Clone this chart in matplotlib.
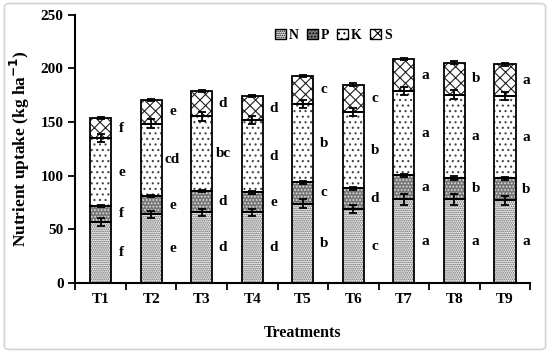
import numpy as np
import matplotlib
matplotlib.use("Agg")
import matplotlib.pyplot as plt
from matplotlib.patches import FancyBboxPatch, Patch

plt.rcParams['font.family'] = ['Liberation Serif', 'DejaVu Serif']
plt.rcParams['font.weight'] = 'bold'
plt.rcParams['hatch.linewidth'] = 0.8

# data (kg/ha)
treatments = ['T1', 'T2', 'T3', 'T4', 'T5', 'T6', 'T7', 'T8', 'T9']
N = [57, 64, 66, 66, 74, 69, 78, 78, 77]
P = [15, 17, 19.5, 18.5, 20, 19.5, 22.5, 20, 20.5]
K = [63, 67.5, 70, 67.5, 73, 71, 78.5, 77.5, 77]
S = [19, 22.5, 23.5, 22, 26, 25.5, 29.5, 30, 29.5]

errN = [3.5, 3.5, 3.5, 3.5, 4, 4, 5, 5, 4]
errP = [1, 1, 1, 1, 1.5, 1.5, 1.5, 1.5, 1]
errK = [3.5, 4, 4, 3.5, 3.5, 4, 4, 4, 4]
errS = [1, 1, 1, 1, 1, 1.5, 1, 1.5, 1.5]

letN = ['f', 'e', 'd', 'd', 'b', 'c', 'a', 'a', 'a']
letP = ['f', 'e', 'd', 'e', 'c', 'd', 'a', 'b', 'b']
letK = ['e', 'cd', 'bc', 'd', 'b', 'b', 'a', 'a', 'a']
letS = ['f', 'e', 'd', 'd', 'c', 'c', 'a', 'b', 'a']

fig = plt.figure(figsize=(5.5, 3.53), dpi=100)
ax = fig.add_axes([0.137, 0.198, 0.827, 0.76])

# light frame round the figure
fig.patches.append(FancyBboxPatch((0.008, 0.01), 0.984, 0.98, boxstyle="round,pad=0,rounding_size=0.01",
                                  transform=fig.transFigure, fc='none', ec='#d4d4d4', lw=1.2))

x = np.arange(len(treatments))
w = 0.42

# style of each layer: face, hatch, hatch colour
styles = [
    ('N', N, errN, letN, '#f4f4f4', '........', '#5a5a5a'),
    ('P', P, errP, letP, '#777777', '.....', '#e0e0e0'),
    ('K', K, errK, letK, 'white', '...', '#444444'),
    ('S', S, errS, letS, 'white', 'xxx', '#222222'),
]

bottom = np.zeros(len(x))
handles = []
for name, vals, err, lets, fc, hatch, hc in styles:
    vals = np.array(vals, dtype=float)
    ax.bar(x, vals, w, bottom=bottom, color=fc, hatch=hatch, edgecolor=hc, linewidth=0, zorder=2)
    ax.bar(x, vals, w, bottom=bottom, fill=False, edgecolor='black', linewidth=1.3, zorder=3)
    top = bottom + vals
    ax.errorbar(x, top, yerr=err, fmt='none', ecolor='black', elinewidth=1.3, capsize=3, capthick=1.3, zorder=4)
    for xi, yi, t in zip(x, bottom + vals / 2, lets):
        ax.text(xi + 0.42, yi, t, ha='center', va='center', fontsize=11, fontweight='bold')
    handles.append(Patch(facecolor=fc, hatch=hatch, edgecolor='black', linewidth=1.0, label=name))
    bottom = top

ax.set_xlim(-0.5, len(x) - 0.5)
ax.set_ylim(0, 250)
ax.set_yticks(np.arange(0, 251, 50))
ax.set_xticks(x)
ax.set_xticklabels(treatments, fontsize=11, fontweight='bold')
ax.set_xticks(np.arange(-0.5, len(x), 1), minor=True)
ax.tick_params(axis='x', which='major', length=0, pad=7)
ax.tick_params(axis='x', which='minor', length=5, width=1.3, direction='out')
ax.tick_params(axis='y', length=5, width=1.3, direction='out', labelsize=11)
for lab in ax.get_yticklabels():
    lab.set_fontweight('bold')

ax.spines['top'].set_visible(False)
ax.spines['right'].set_visible(False)
ax.spines['left'].set_linewidth(1.5)
ax.spines['bottom'].set_linewidth(1.5)

ax.set_ylabel('Nutrient uptake (kg ha$^{\\mathbf{-1}}$)', fontsize=12.5, fontweight='bold', labelpad=6)
ax.set_xlabel('Treatments', fontsize=11.5, fontweight='bold', labelpad=14)

leg = ax.legend(handles=handles, ncol=4, loc='upper center', bbox_to_anchor=(0.567, 0.995), frameon=False,
                handlelength=0.8, handleheight=0.8, handletextpad=0.2, columnspacing=0.6,
                prop={'weight': 'bold', 'size': 10})

fig.savefig('out.png', dpi=100)
